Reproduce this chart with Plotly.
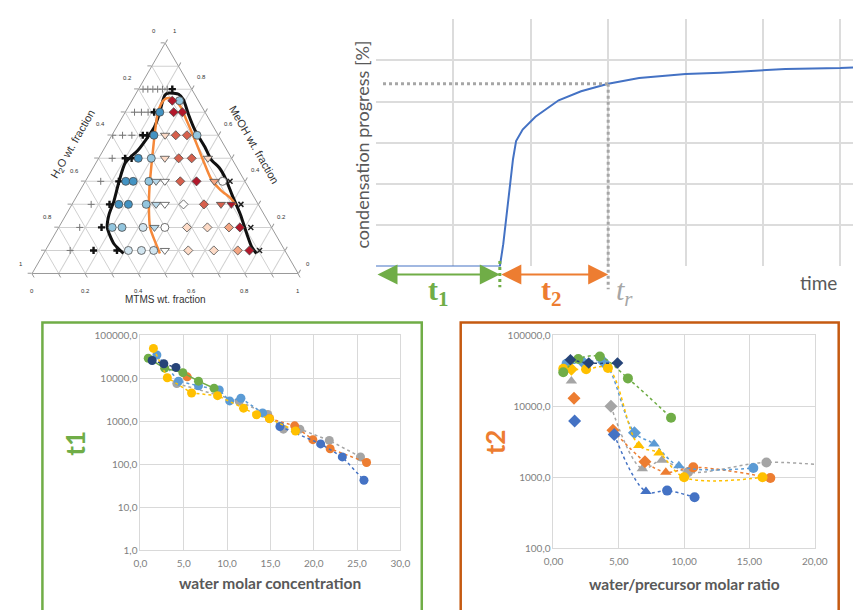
import plotly.graph_objects as go

W, H = 866, 610
def PX(x): return x / W
def PY(y): return 1 - y / H

# ======================= DATA =======================
# --- Ternary diagram: sample compositions (wt. fractions); H2O = 1 - MeOH - MTMS
tern_meoh = ([0.8] * 7 + [0.75] * 2 + [0.7] * 7 + [0.6] * 10 + [0.5] * 9 +
             [0.4] * 12 + [0.3] * 12 + [0.2] * 12 + [0.1] * 12)
tern_mtms = [0.017, 0.035, 0.054, 0.072, 0.090, 0.108, 0.127,
             0.152, 0.179,
             0.035, 0.061, 0.086, 0.109, 0.130, 0.182, 0.215,
             0.003, 0.040, 0.075, 0.116, 0.133, 0.158, 0.200, 0.240, 0.282, 0.320,
             0.051, 0.100, 0.124, 0.149, 0.198, 0.249, 0.301, 0.350, 0.411,
             0.058, 0.126, 0.152, 0.180, 0.239, 0.266, 0.299, 0.357, 0.418, 0.485, 0.516, 0.544,
             0.072, 0.141, 0.176, 0.212, 0.279, 0.316, 0.349, 0.419, 0.496, 0.560, 0.599, 0.635,
             0.079, 0.161, 0.201, 0.238, 0.317, 0.360, 0.399, 0.482, 0.559, 0.640, 0.681, 0.722,
             0.093, 0.181, 0.269, 0.312, 0.361, 0.407, 0.449, 0.537, 0.633, 0.723, 0.767, 0.805]
tern_class = ['p', 'p', 'p', 'p', 'p', 'p', 'P',
              'd_r', 'c_b2',
              'p', 'p', 'p', 'P', 'c_b1', 'd_r', 'd_r',
              'p', 'p', 'p', 'P', 'P', 'c_b1', 't_p1', 'd_o', 'd_o', 'c_b2',
              'p', 'P', 'P', 'c_b1', 'c_b2', 't_p1', 'd_o', 'd_o', 't_p1',
              'p', 'P', 'c_b1', 'c_b1', 'c_b2', 't_b2', 't_w', 'd_o', 'd_r', 't_p2', 'c_w', 'x',
              'p', 'P', 'c_b1', 'c_b1', 'c_b2', 't_b2', 't_w', 'd_w', 'd_o', 't_o', 't_r', 'x',
              'p', 'P', 'c_b2', 'c_b2', 'c_b3', 't_b2', 'c_w', 'd_p1', 'd_p1', 'd_p2', 'd_r', 'x',
              'p', 'P', 'P', 'c_b3', 'c_b3', 'c_b3', 't_w', 'd_p1', 'd_p1', 'd_p2', 'd_r', 'x']

# boundary curves in the ternary diagram
black_meoh = [0.087, 0.129, 0.199, 0.256, 0.312, 0.396, 0.480, 0.537, 0.593, 0.635, 0.691, 0.747, 0.775,
              0.783, 0.778, 0.754, 0.691, 0.621, 0.551, 0.494, 0.459, 0.410, 0.340, 0.256, 0.172, 0.115, 0.087]
black_mtms = [0.300, 0.243, 0.183, 0.161, 0.151, 0.128, 0.110, 0.131, 0.139, 0.142, 0.132, 0.117, 0.112,
              0.123, 0.162, 0.192, 0.242, 0.302, 0.373, 0.426, 0.474, 0.523, 0.582, 0.655, 0.721, 0.768, 0.800]
orange_meoh = [0.087, 0.129, 0.199, 0.284, 0.368, 0.452, 0.537, 0.621, 0.691, 0.733, 0.757, 0.762, 0.757,
               0.726, 0.663, 0.579, 0.494, 0.410, 0.361, 0.326, 0.298]
orange_mtms = [0.437, 0.401, 0.344, 0.297, 0.257, 0.221, 0.186, 0.152, 0.126, 0.117, 0.121, 0.134, 0.154,
               0.194, 0.250, 0.323, 0.395, 0.468, 0.529, 0.584, 0.616]
tern_ticks = [0, 0.2, 0.4, 0.6, 0.8, 1]

# --- condensation progress curve (schematic)
time_vals = [0, 1.60, 1.644, 1.707, 1.77, 1.81, 1.895, 2.06, 2.36, 2.65, 3.0, 3.40, 4.0, 4.45, 5.0, 5.29, 6.0, 6.2]
progress_vals = [0, 0, 0.54, 1.57, 2.60, 3.04, 3.32, 3.63, 4.03, 4.25, 4.43, 4.57, 4.67, 4.70, 4.76, 4.79, 4.81, 4.83]
t1_end = 1.6
t_r = 3.0
progress_at_tr = 4.43

# --- t1 vs water molar concentration
t1_yellow_x = [1.5, 3.1, 5.9, 8.9, 11.9, 13.4, 14.9, 17.9]
t1_yellow_y = [49000, 10200, 4500, 3900, 2000, 1400, 1140, 590]
t1_green_x = [0.9, 2.8, 4.9, 6.7, 8.5]
t1_green_y = [29000, 17000, 13400, 8500, 5800]
t1_navy_x = [1.35, 2.7, 4.1]
t1_navy_y = [25700, 21500, 17700]
t1_lblue_x = [1.9, 4.4, 6.7, 9.1, 10.3, 11.6, 14.1]
t1_lblue_y = [34500, 8500, 6600, 5300, 2950, 3400, 1550]
t1_blue_x = [16.1, 20.8, 23.3, 25.8]
t1_blue_y = [750, 295, 147, 42]
t1_orange_x = [5.4, None, 14.9, 17.8, 19.9, 21.9, 26.1]
t1_orange_y = [10700, None, 1150, 775, 370, 228, 109]
t1_gray_x = [4.2, 11.4, 14.7, 16.5, 18.4, 21.8, 25.4]
t1_gray_y = [7500, 2900, 1420, 650, 650, 355, 147]
t1_xticks = [0, 5, 10, 15, 20, 25, 30]
t1_xtext = ['0,0', '5,0', '10,0', '15,0', '20,0', '25,0', '30,0']
t1_yticks = [1, 10, 100, 1000, 10000, 100000]
t1_ytext = ['1,0', '10,0', '100,0', '1000,0', '10000,0', '100000,0']

# --- t2 vs water/precursor molar ratio
t2_green_x = [0.75, 1.9, 3.55, 5.7, 9.0]
t2_green_y = [30000, 46000, 50000, 24600, 6900]
t2_navy_x = [1.3, 2.7, 4.9]
t2_navy_y = [45000, 40500, 40500]
t2_lblue_x = [1.0, 2.3, 3.85, 6.2, 7.7, 9.6, 15.3]
t2_lblue_y = [39600, 40800, 41500, 4250, 2950, 1450, 1350]
t2_yellow_x = [0.75, 1.37, 2.5, 4.17, 6.53, 8.08, 10.0, 16.0]
t2_yellow_y = [33700, 33000, 33000, 34400, 2800, 2200, 1000, 1000]
t2_gray_x = [1.37, None, 4.4, 6.8, 8.3, 10.3, 16.3, 22.0]
t2_gray_y = [22600, None, 10000, 1320, 1740, 1180, 1620, 1400]
t2_orange_x = [1.57, None, 4.55, 7.0, 8.6, 10.7, 16.6]
t2_orange_y = [12900, None, 4600, 1660, 1180, 1380, 980]
t2_blue_x = [1.62, None, 4.65, 7.08, 8.7, 10.8]
t2_blue_y = [6200, None, 4000, 630, 650, 525]
t2_xticks = [0, 5, 10, 15, 20]
t2_xtext = ['0,00', '5,00', '10,00', '15,00', '20,00']
t2_yticks = [100, 1000, 10000, 100000]
t2_ytext = ['100,0', '1000,0', '10000,0', '100000,0']

# ======================= STYLES =======================
C_BLUE, C_ORANGE, C_GRAY, C_YELLOW = '#4472c4', '#ed7d31', '#a5a5a5', '#ffc000'
C_LBLUE, C_GREEN, C_NAVY = '#5b9bd5', '#70ad47', '#264478'
TXT = '#595959'

t2_lblue_sym = ['circle', 'diamond', 'diamond', 'diamond', 'triangle-up', 'triangle-up', 'circle']
t2_yellow_sym = ['circle', 'diamond', 'circle', 'circle', 'triangle-up', 'triangle-up', 'circle', 'circle']
t2_gray_sym = ['triangle-up', 'circle', 'diamond', 'triangle-up', 'triangle-up', 'circle', 'circle', 'circle']
t2_orange_sym = ['diamond', 'circle', 'diamond', 'diamond', 'triangle-up', 'circle', 'circle']
t2_blue_sym = ['diamond', 'circle', 'diamond', 'triangle-up', 'circle', 'circle']

edge = dict(color='#4d4d4d', width=0.8)
tern_style = {
    'p': dict(symbol='cross-thin', size=5, color='#777', line=dict(color='#777', width=1)),
    'P': dict(symbol='cross', size=6, color='#111', line=dict(width=0)),
    'c_b1': dict(symbol='circle', size=8, color='#4393c3', line=edge),
    'c_b2': dict(symbol='circle', size=8, color='#92c5de', line=edge),
    'c_b3': dict(symbol='circle', size=8, color='#d1e5f0', line=edge),
    'c_w': dict(symbol='circle', size=8, color='#ffffff', line=edge),
    't_b2': dict(symbol='triangle-down', size=8, color='#b9d9ea', line=edge),
    't_w': dict(symbol='triangle-down', size=8, color='#ffffff', line=edge),
    't_p1': dict(symbol='triangle-down', size=8, color='#fddbc7', line=edge),
    't_p2': dict(symbol='triangle-down', size=8, color='#f4a582', line=edge),
    't_o': dict(symbol='triangle-down', size=8, color='#d6604d', line=edge),
    't_r': dict(symbol='triangle-down', size=8, color='#b2182b', line=edge),
    'd_w': dict(symbol='diamond', size=7, color='#ffffff', line=edge),
    'd_p1': dict(symbol='diamond', size=7, color='#fddbc7', line=edge),
    'd_p2': dict(symbol='diamond', size=7, color='#f4a582', line=edge),
    'd_o': dict(symbol='diamond', size=7, color='#d6604d', line=edge),
    'd_r': dict(symbol='diamond', size=7, color='#b2182b', line=edge),
    'x': dict(symbol='x-thin', size=5, color='#222', line=dict(color='#222', width=1.5)),
}

fig = go.Figure()

def note(x, y, text, font, **kw):
    d = dict(x=PX(x), y=PY(y), xref='paper', yref='paper', text=text, showarrow=False, font=font,
             xanchor='center', yanchor='middle')
    d.update(kw)
    return d

# ======================= TERNARY =======================
TRI_L, TRI_R, TRI_T, TRI_B = 22.7, 296.0, 36.7, 274.0

def tern_px(m, c):
    return TRI_L + (TRI_R - TRI_L) * (c + m / 2), TRI_B - (TRI_B - TRI_T) * m

fig.add_trace(go.Scatterternary(a=black_meoh, c=black_mtms,
                                b=[1 - a - c for a, c in zip(black_meoh, black_mtms)],
                                mode='lines', line=dict(color='#111', width=3, shape='spline', smoothing=0.6),
                                showlegend=False, hoverinfo='skip'))
fig.add_trace(go.Scatterternary(a=orange_meoh, c=orange_mtms,
                                b=[1 - a - c for a, c in zip(orange_meoh, orange_mtms)],
                                mode='lines', line=dict(color='#f5883a', width=2.5, shape='spline', smoothing=0.6),
                                showlegend=False, hoverinfo='skip'))
for cls, st in tern_style.items():
    idx = [i for i, k in enumerate(tern_class) if k == cls]
    if not idx:
        continue
    aa = [tern_meoh[i] for i in idx]
    cc = [tern_mtms[i] for i in idx]
    fig.add_trace(go.Scatterternary(a=aa, c=cc, b=[1 - a - c for a, c in zip(aa, cc)],
                                    mode='markers', marker=st, showlegend=False))

tax = dict(showticklabels=False, ticks='outside', ticklen=4, tickcolor='#999', dtick=0.1, tick0=0,
           linecolor='#999', linewidth=1, gridcolor='#d0d0d0', gridwidth=0.8, title=dict(text=''))

annotations = []
tick_font = dict(family='Liberation Sans', size=6, color='#333')
for v in tern_ticks:
    lbl = ('%g' % v)
    x, y = tern_px(1 - v, 0)            # H2O along left edge
    annotations.append(note(x - 11.3, y - 11.2, lbl, tick_font))
    x, y = tern_px(v, 1 - v)            # MeOH along right edge
    annotations.append(note(x + 10.5, y - 11.3, lbl, tick_font))
    x, y = tern_px(0, v)                # MTMS along bottom edge
    annotations.append(note(x, y + 17, lbl, tick_font))
tt_font = dict(family='Liberation Sans', size=11, color='#333')
annotations += [
    note(65.5, 141, 'H<sub>2</sub>O wt. fraction', tt_font, textangle=-60),
    note(251, 141.7, 'MeOH wt. fraction', tt_font, textangle=60),
    note(160, 299, 'MTMS wt. fraction', dict(family='Liberation Sans', size=10, color='#333')),
]

# ======================= TOP RIGHT: condensation progress =======================
fig.add_trace(go.Scatter(x=time_vals, y=progress_vals, mode='lines', line=dict(color=C_BLUE, width=2),
                         xaxis='x3', yaxis='y3', showlegend=False))

Y3_BOT, Y3_TOP = 265.7, 13.3
def y3_paper(v):
    return PY(Y3_BOT) + (PY(Y3_TOP) - PY(Y3_BOT)) * v / 6.0

shapes = [
    dict(type='line', xref='x3', yref='y3', x0=0.09, x1=t_r, y0=progress_at_tr, y1=progress_at_tr,
         line=dict(color='#a6a6a6', width=3, dash='dot')),
    dict(type='line', xref='x3', yref='paper', x0=t_r, x1=t_r, y0=y3_paper(progress_at_tr), y1=PY(289),
         line=dict(color='#a6a6a6', width=3, dash='dot')),
    dict(type='line', xref='x3', yref='paper', x0=t1_end, x1=t1_end, y0=PY(260), y1=PY(287),
         line=dict(color=C_GREEN, width=3, dash='dot')),
    # panel frames
    dict(type='rect', xref='paper', yref='paper', x0=PX(33.3), x1=PX(423), y0=PY(622), y1=PY(322.8),
         line=dict(color=C_GREEN, width=2.5)),
    dict(type='rect', xref='paper', yref='paper', x0=PX(463), x1=PX(851.3), y0=PY(622), y1=PY(322.8),
         line=dict(color='#c55a11', width=2.5)),
]

arrow_y = PY(274)
for x0, x1, col in [(0, t1_end, C_GREEN), (t1_end, t_r, C_ORANGE)]:
    annotations.append(dict(x=x1, y=arrow_y, xref='x3', yref='paper', ax=x0, ay=0, axref='x3', ayref='pixel',
                            text='', showarrow=True, arrowside='end+start', arrowhead=2, startarrowhead=2,
                            arrowsize=2, startarrowsize=2, arrowwidth=2, arrowcolor=col,
                            standoff=0, startstandoff=0))

serif = 'Liberation Serif'
annotations += [
    note(440, 292, '<b>t<sub>1</sub></b>', dict(family=serif, size=30, color=C_GREEN)),
    note(556, 292, '<b>t<sub>2</sub></b>', dict(family=serif, size=30, color=C_ORANGE)),
    note(631, 292, '<i>t<sub>r</sub></i>', dict(family=serif, size=30, color='#a6a6a6')),
    note(810, 282, 'time', dict(family='Lato', size=19, color=TXT), xanchor='left'),
    note(362, 141, 'condensation progress [%]', dict(family='Lato', size=18, color=TXT), textangle=-90),
]

# ======================= BOTTOM LEFT: t1 =======================
def dotted(x, y, col, ax, ay, sym='circle', size=9, dash='dot', shape='linear'):
    return go.Scatter(x=x, y=y, mode='lines+markers', xaxis=ax, yaxis=ay, showlegend=False,
                      line=dict(color=col, width=1.5, dash=dash, shape=shape),
                      marker=dict(color=col, size=size, symbol=sym), connectgaps=False)

fig.add_trace(dotted(t1_gray_x, t1_gray_y, C_GRAY, 'x', 'y'))
fig.add_trace(dotted(t1_orange_x, t1_orange_y, C_ORANGE, 'x', 'y'))
fig.add_trace(dotted(t1_blue_x, t1_blue_y, C_BLUE, 'x', 'y'))
fig.add_trace(dotted(t1_lblue_x, t1_lblue_y, C_LBLUE, 'x', 'y'))
fig.add_trace(dotted(t1_green_x, t1_green_y, C_GREEN, 'x', 'y', dash='solid'))
fig.add_trace(dotted(t1_yellow_x, t1_yellow_y, C_YELLOW, 'x', 'y'))
fig.add_trace(dotted(t1_navy_x, t1_navy_y, C_NAVY, 'x', 'y'))

# ======================= BOTTOM RIGHT: t2 =======================
fig.add_trace(dotted(t2_gray_x, t2_gray_y, C_GRAY, 'x2', 'y2', sym=t2_gray_sym, size=10, shape='spline'))
fig.add_trace(dotted(t2_orange_x, t2_orange_y, C_ORANGE, 'x2', 'y2', sym=t2_orange_sym, size=10, shape='spline'))
fig.add_trace(dotted(t2_blue_x, t2_blue_y, C_BLUE, 'x2', 'y2', sym=t2_blue_sym, size=10, shape='spline'))
fig.add_trace(dotted(t2_lblue_x, t2_lblue_y, C_LBLUE, 'x2', 'y2', sym=t2_lblue_sym, size=10, shape='spline'))
fig.add_trace(dotted(t2_yellow_x, t2_yellow_y, C_YELLOW, 'x2', 'y2', sym=t2_yellow_sym, size=10, shape='spline'))
fig.add_trace(dotted(t2_green_x, t2_green_y, C_GREEN, 'x2', 'y2', size=10, shape='spline'))
fig.add_trace(dotted(t2_navy_x, t2_navy_y, C_NAVY, 'x2', 'y2', sym='diamond', size=9, shape='spline'))

tickf = dict(family='Lato', size=10, color='#7f7f7f')
grid = dict(showgrid=True, gridcolor='#d9d9d9', gridwidth=1, zeroline=False, showline=True,
            linecolor='#d9d9d9', linewidth=1, mirror=True, ticks='', tickfont=tickf)

annotations += [
    note(267, 589, '<b>water molar concentration</b>', dict(family='Lato', size=15.5, color=TXT)),
    note(67.3, 446, '<b>t1</b>', dict(family='Lato', size=26, color=C_GREEN), textangle=-90),
    note(693.3, 590, '<b>water/precursor molar ratio</b>', dict(family='Lato', size=15.5, color=TXT)),
    note(498.3, 445, '<b>t2</b>', dict(family='Lato', size=26, color=C_ORANGE), textangle=-90),
]

fig.update_layout(
    width=W, height=H, margin=dict(l=0, r=0, t=0, b=0),
    paper_bgcolor='white', plot_bgcolor='white', showlegend=False,
    font=dict(family='Lato', color=TXT),
    ternary=dict(domain=dict(x=[PX(TRI_L), PX(TRI_R)], y=[PY(TRI_B), PY(TRI_T)]), sum=1,
                 bgcolor='white', aaxis=tax, baxis=tax, caxis=tax),
    xaxis=dict(domain=[PX(134), PX(401)], range=[0, 30], anchor='y',
               tickvals=t1_xticks, ticktext=t1_xtext, ticklabelstandoff=4, **grid),
    yaxis=dict(domain=[PY(555), PY(335.7)], type='log', range=[0, 5], anchor='x',
               tickvals=t1_yticks, ticktext=t1_ytext, **grid),
    xaxis2=dict(domain=[PX(558.3), PX(826.7)], range=[0, 20], anchor='y2',
                tickvals=t2_xticks, ticktext=t2_xtext, ticklabelstandoff=4, **grid),
    yaxis2=dict(domain=[PY(553.3), PY(335.7)], type='log', range=[2, 5], anchor='x2',
                tickvals=t2_yticks, ticktext=t2_ytext, **grid),
    xaxis3=dict(domain=[PX(376), 1], range=[0, (W - 376) / 79.5], anchor='y3', dtick=1, tick0=0,
                showticklabels=False, showgrid=True, gridcolor='#dcdcdc', gridwidth=1.5, zeroline=False),
    yaxis3=dict(domain=[PY(Y3_BOT), PY(Y3_TOP)], range=[0, 6], anchor='x3', dtick=1,
                showticklabels=False, showgrid=True, gridcolor='#dcdcdc', gridwidth=1.5, zeroline=False),
    shapes=shapes, annotations=annotations,
)

fig.write_html('out.html')
